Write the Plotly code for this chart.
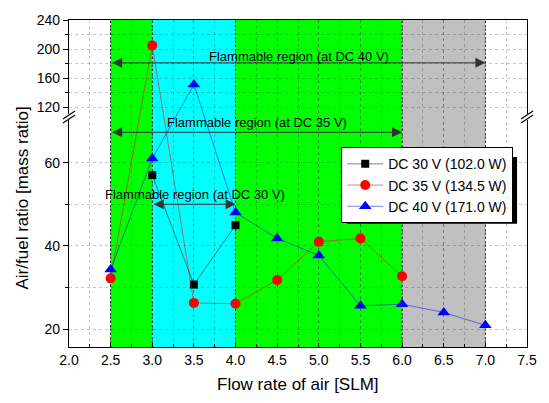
import plotly.graph_objects as go

# Air/fuel ratio measured at each air flow rate, per DC supply voltage
flow_30 = [3.0, 3.5, 4.0]
afr_30 = [57.0, 30.7, 45.0]
flow_35 = [2.5, 3.0, 3.5, 4.0, 4.5, 5.0, 5.5, 6.0]
afr_35 = [32.2, 205.0, 26.3, 26.1, 31.8, 41.0, 41.8, 32.7]
flow_40 = [2.5, 3.0, 3.5, 4.0, 4.5, 5.0, 5.5, 6.0, 6.5, 7.0]
afr_40 = [34.3, 61.0, 151.0, 48.0, 41.8, 37.7, 25.6, 26.0, 24.0, 20.9]
series_names = ["DC 30 V (102.0 W)", "DC 35 V (134.5 W)", "DC 40 V (171.0 W)"]

# Shaded flow-rate bands
region_edges = [2.5, 3.0, 4.0, 6.0, 7.0]
region_colors = ["#00ff00", "#00ffff", "#00ff00", "#c0c0c0"]

# Flammable ranges (start, end, arrow level) and their labels
flammable_labels = ["Flammable region (at DC 30 V)",
                    "Flammable region (at DC 35 V)",
                    "Flammable region (at DC 40 V)"]
flammable_start = [3.0, 2.5, 2.5]
flammable_end = [4.0, 6.0, 7.0]
flammable_level = [50.0, 67.3, 181.0]
label_x = [3.51, 4.26, 4.76]
label_level = [52.3, 69.6, 189.5]

x_ticks = [2.0, 2.5, 3.0, 3.5, 4.0, 4.5, 5.0, 5.5, 6.0, 6.5, 7.0, 7.5]
y_major = [20, 40, 60, 120, 160, 200, 240]
y_minor = [30, 50, 140, 180, 220]

# Broken y scale: lower segment and upper segment stacked on one axis
LOW = (15.7, 71.0)
HIGH = (106.5, 240.0)
SPLIT = 0.7036


def broken(v):
    if v <= LOW[1]:
        return (v - LOW[0]) / (LOW[1] - LOW[0]) * SPLIT
    return SPLIT + (v - HIGH[0]) / (HIGH[1] - HIGH[0]) * (1 - SPLIT)


FONT = "Liberation Sans, Arial, sans-serif"
GRID = "rgba(0,0,0,0.22)"

fig = go.Figure()

styles = [
    dict(flow=flow_30, afr=afr_30, line="rgba(0,0,0,0.5)", color="black", symbol="square", size=8),
    dict(flow=flow_35, afr=afr_35, line="rgba(255,0,0,0.55)", color="red", symbol="circle", size=10),
    dict(flow=flow_40, afr=afr_40, line="rgba(0,0,255,0.5)", color="blue", symbol="triangle-up", size=11),
]
for name, s in zip(series_names, styles):
    fig.add_trace(go.Scatter(
        x=s["flow"], y=[broken(v) for v in s["afr"]], customdata=s["afr"],
        name=name, mode="lines+markers",
        line=dict(color=s["line"], width=1),
        marker=dict(symbol=s["symbol"], size=s["size"], color=s["color"], line=dict(width=0)),
        hovertemplate="%{x}, %{customdata}<extra>" + name + "</extra>",
    ))

# Background bands
for x0, x1, c in zip(region_edges[:-1], region_edges[1:], region_colors):
    fig.add_shape(type="rect", xref="x", yref="paper", x0=x0, x1=x1, y0=0, y1=1,
                  fillcolor=c, line=dict(width=0), layer="below")
for e in region_edges:
    fig.add_shape(type="line", xref="x", yref="paper", x0=e, x1=e, y0=0, y1=1,
                  line=dict(color="#333333", width=1, dash="2px,2px"), layer="between")

# Flammable range arrows and labels
for lab, x0, x1, lvl, lx, ly in zip(flammable_labels, flammable_start, flammable_end,
                                    flammable_level, label_x, label_level):
    yy = broken(lvl)
    fig.add_annotation(x=x1, y=yy, ax=x0, ay=yy, xref="x", yref="y", axref="x", ayref="y",
                       text="", showarrow=True, arrowside="end+start",
                       arrowhead=2, startarrowhead=2, arrowsize=2, startarrowsize=2,
                       arrowwidth=1, arrowcolor="#333333", standoff=0, startstandoff=0)
    fig.add_annotation(x=lx, y=broken(ly), xref="x", yref="y", text=lab, showarrow=False,
                       xanchor="center", yanchor="middle",
                       font=dict(family=FONT, size=13, color="black"))

# Axis-break marks on the left and right frame
for xa in (0, 1):
    fig.add_shape(type="rect", xref="paper", yref="paper", xsizemode="pixel", ysizemode="pixel",
                  xanchor=xa, yanchor=SPLIT, x0=-3, x1=3, y0=-3, y1=3,
                  fillcolor="white", line=dict(width=0), layer="above")
    for dy in (-2, 2):
        fig.add_shape(type="line", xref="paper", yref="paper", xsizemode="pixel", ysizemode="pixel",
                      xanchor=xa, yanchor=SPLIT, x0=-6, x1=6, y0=dy - 4, y1=dy + 4,
                      line=dict(color="black", width=1.2), layer="above")

# Legend drop shadow
fig.add_shape(type="rect", xref="paper", yref="paper", x0=0.6074, x1=0.9783, y0=0.3772, y1=0.5808,
              fillcolor="black", line=dict(width=0), layer="above")

# Axis titles
fig.add_annotation(xref="paper", yref="paper", x=-0.102, y=0.455, text="Air/fuel ratio [mass ratio]",
                   xanchor="center", yanchor="middle",
                   textangle=-90, showarrow=False, font=dict(family=FONT, size=17, color="black"))
fig.add_annotation(xref="paper", yref="paper", x=0.5, y=-0.114, text="Flow rate of air [SLM]",
                   xanchor="center", yanchor="middle",
                   showarrow=False, font=dict(family=FONT, size=17, color="black"))

fig.update_layout(
    width=549, height=403,
    margin=dict(l=69, r=19, t=13, b=56),
    paper_bgcolor="white", plot_bgcolor="white",
    font=dict(family=FONT, size=14, color="black"),
    showlegend=True,
    legend=dict(x=0.5944, y=0.6108, xanchor="left", yanchor="top",
                bgcolor="white", bordercolor="black", borderwidth=1, itemwidth=36,
                font=dict(family=FONT, size=14, color="black"), tracegroupgap=0),
    xaxis=dict(range=[2.0, 7.5], tickvals=x_ticks, ticktext=[f"{v:.1f}" for v in x_ticks],
               ticks="inside", ticklen=4, tickcolor="black",
               showline=True, linecolor="black", linewidth=1.2, mirror=True,
               showgrid=True, gridcolor=GRID, griddash="dot", gridwidth=1, zeroline=False,
               tickfont=dict(family=FONT, size=14, color="black"),
               minor=dict(dtick=0.25, tick0=2.0, ticks="inside", ticklen=3, tickcolor="black",
                          showgrid=True, gridcolor=GRID, griddash="dot")),
    yaxis=dict(range=[0, 1], tickvals=[broken(v) for v in y_major], ticktext=[str(v) for v in y_major],
               ticks="outside", ticklen=5, tickcolor="black",
               showline=True, linecolor="black", linewidth=1.2, mirror=True,
               showgrid=True, gridcolor=GRID, griddash="dot", gridwidth=1, zeroline=False,
               tickfont=dict(family=FONT, size=14, color="black"),
               minor=dict(tickmode="array", tickvals=[broken(v) for v in y_minor],
                          ticks="outside", ticklen=3, tickcolor="black",
                          showgrid=True, gridcolor=GRID, griddash="dot")),
)

fig.write_html("out.html")
